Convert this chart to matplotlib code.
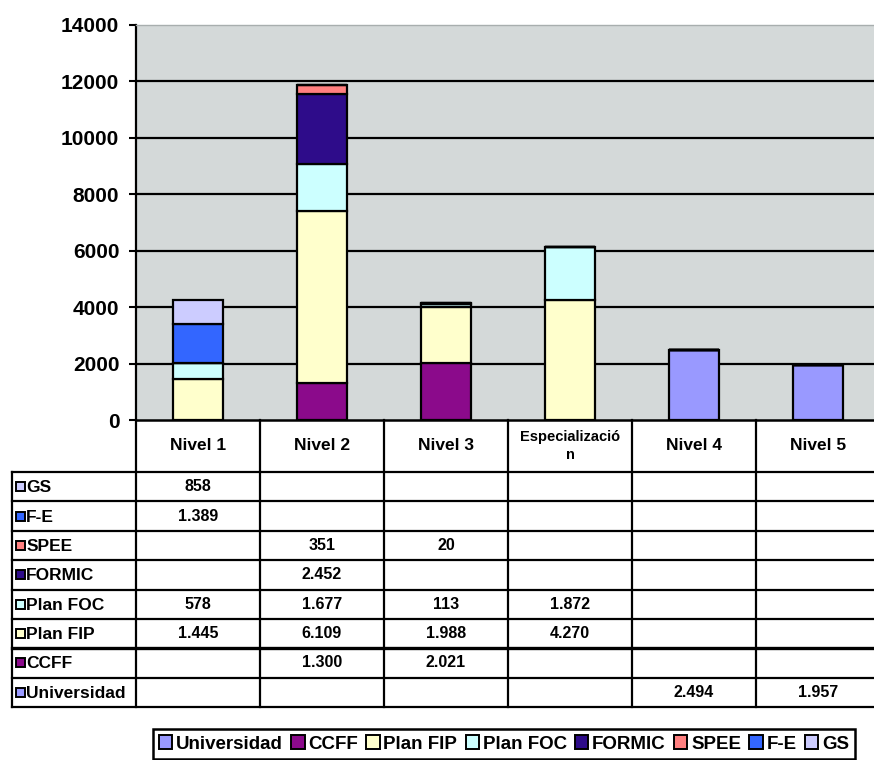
import matplotlib
matplotlib.use("Agg")
import matplotlib.pyplot as plt
import matplotlib.transforms as mtransforms
from matplotlib.patches import Rectangle
import numpy as np

plt.rcParams["font.family"] = ["Liberation Sans", "DejaVu Sans"]
plt.rcParams["font.weight"] = "bold"

# data
categories = ["Nivel 1", "Nivel 2", "Nivel 3", "Especializació\nn", "Nivel 4", "Nivel 5"]
series = ["Universidad", "CCFF", "Plan FIP", "Plan FOC", "FORMIC", "SPEE", "F-E", "GS"]
universidad = [0, 0, 0, 0, 2494, 1957]
ccff = [0, 1300, 2021, 0, 0, 0]
plan_fip = [1445, 6109, 1988, 4270, 0, 0]
plan_foc = [578, 1677, 113, 1872, 0, 0]
formic = [0, 2452, 0, 0, 0, 0]
spee = [0, 351, 20, 0, 0, 0]
f_e = [1389, 0, 0, 0, 0, 0]
gs = [858, 0, 0, 0, 0, 0]
values = [universidad, ccff, plan_fip, plan_foc, formic, spee, f_e, gs]
colors = ["#9999FF", "#8B0A8B", "#FFFFCC", "#CCFFFF", "#2E0C8A", "#FF8080", "#3366FF", "#CCCCFF"]

W, H = 874, 760
fig = plt.figure(figsize=(W / 100, H / 100), dpi=100)
ax = fig.add_axes([136 / W, 340 / H, 738 / W, 395 / H])
ax.set_facecolor("#D4D9D9")

x = np.arange(len(categories))
bottom = np.zeros(len(categories))
for name, vals, col in zip(series, values, colors):
    vals = np.array(vals, dtype=float)
    ax.bar(x, vals, 0.4, bottom=bottom, color=col, edgecolor="black",
           linewidth=1.6, zorder=3, label=name)
    bottom += vals

ax.set_xlim(-0.5, -0.5 + 738 / 124)
ax.set_ylim(0, 14000)
ax.set_yticks(range(0, 14001, 2000))
ax.set_xticks([])
ax.tick_params(axis="y", length=5, width=1.5, labelsize=15, pad=7)
for lab in ax.get_yticklabels():
    lab.set_fontweight("bold")
for yv in range(2000, 14000, 2000):
    ax.axhline(yv, color="black", lw=1.6, zorder=1)
ax.spines["top"].set_color("#A8AEAE")
ax.spines["top"].set_linewidth(1.0)
ax.spines["right"].set_visible(False)
ax.spines["left"].set_linewidth(1.6)
ax.spines["bottom"].set_linewidth(1.8)

# data table under the chart
ov = fig.add_axes([0, 0, 1, 1], facecolor="none")
ov.set_xlim(0, W)
ov.set_ylim(H, 0)
ov.axis("off")
tr = mtransforms.blended_transform_factory(ax.transData, ov.transData)

head_top, head_bot, tab_bot = 420, 472, 707
row_h = (tab_bot - head_bot) / len(series)
lw = 1.6
right = len(categories) - 0.5
for i in range(len(categories) + 1):
    ov.plot([i - 0.5, i - 0.5], [head_top, tab_bot], color="black", lw=lw, transform=tr, clip_on=False)
ov.plot([-1.5, -1.5], [head_bot, tab_bot], color="black", lw=lw, transform=tr, clip_on=False)
for r in range(len(series) + 1):
    yy = head_bot + r * row_h
    ov.plot([-1.5, right], [yy, yy], color="black", lw=lw + (0.8 if r == 6 else 0), transform=tr, clip_on=False)

for i, cat in enumerate(categories):
    fs = 10.5 if "\n" in cat else 12.5
    ov.text(i, (head_top + head_bot) / 2, cat, ha="center", va="center", fontsize=fs,
            fontweight="bold", transform=tr, linespacing=1.4)

rev = list(zip(series, values, colors))[::-1]
for r, (name, vals, col) in enumerate(rev):
    yc = head_bot + (r + 0.5) * row_h
    ov.add_patch(Rectangle((-1.5 + 0.035, yc - 4.5), 0.07, 9, facecolor=col, edgecolor="black",
                           lw=1.4, transform=tr, clip_on=False))
    ov.text(-1.5 + 0.115, yc + 1, name, ha="left", va="center", fontsize=12.5, fontweight="bold", transform=tr)
    for i, v in enumerate(vals):
        if v:
            ov.text(i, yc, f"{v:,}".replace(",", "."), ha="center", va="center", fontsize=11.5,
                    fontweight="bold", transform=tr)

handles = [Rectangle((0, 0), 1, 1, facecolor=c, edgecolor="black", lw=1.4) for c in colors]
leg = fig.legend(handles, series, loc="center", bbox_to_anchor=(504 / W, 1 - 744 / H), ncol=8,
                 prop={"weight": "bold", "size": 13.5}, handlelength=0.7, handleheight=0.7,
                 handletextpad=0.2, columnspacing=0.45, borderpad=0.35, fancybox=False,
                 edgecolor="black", framealpha=1)
leg.get_frame().set_linewidth(1.8)

fig.savefig("out.png", dpi=100)
